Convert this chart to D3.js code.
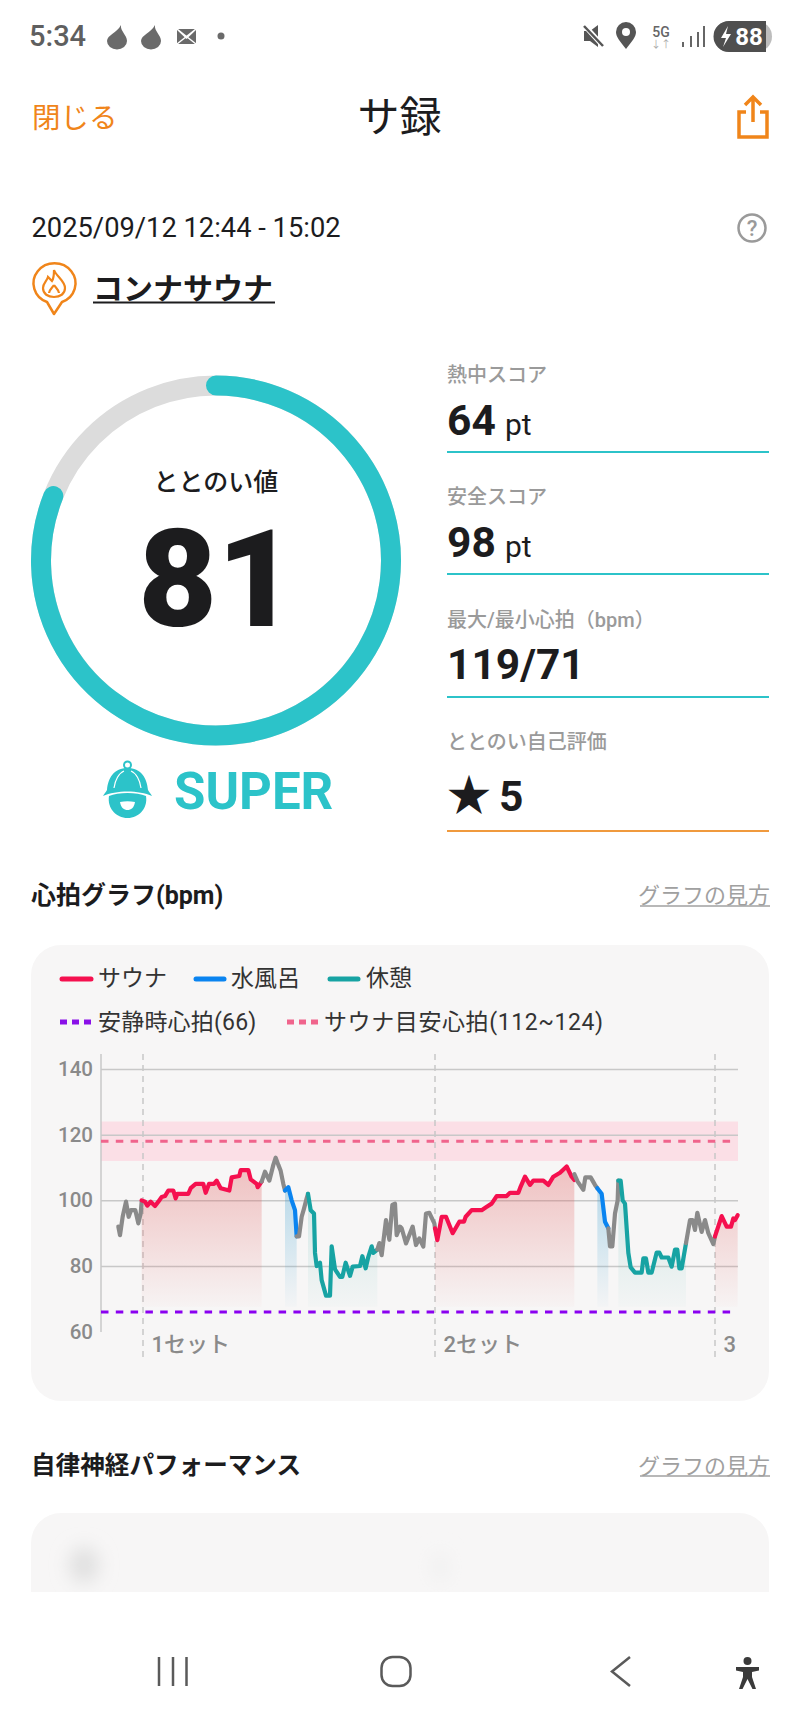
<!DOCTYPE html>
<html>
<head>
<meta charset="utf-8">
<script src="https://cdn.jsdelivr.net/npm/d3@7"></script>
<style>
  html, body { margin: 0; padding: 0; background: #fff; }
  svg { display: block; }
  text { font-family: Roboto, "Noto Sans CJK JP", sans-serif; }
</style>
</head>
<body>
<script>
// heart rate, one [time, bpm] list per stretch of the session
// time is in sample units along the x axis (0 = y axis, 1911 = right edge)
var gray1 = [[52,92],[57,89.4],[65,95],[75,99.6],[83,95],[90,97],[103,97],[112,93],[119,96],[122,99.6]];
var sauna1 = [[122,100],[132,99.6],[139,98.4],[149,99.6],[162,98.3],[172,99.6],[182,101],[192,101.3],[202,103],[217,103],[224,100.6],[229,102],[262,102],[269,103.7],[284,105],[307,105],[314,102.3],[324,105],[339,105],[347,106],[359,103.7],[385,103],[392,107],[415,107.4],[419,109.2],[442,109.2],[449,106.4],[467,105],[470,104],[482,105.7]];
var gray2 = [[482,105.7],[492,108.7],[505,106],[517,110.8],[524,113],[532,110.8],[539,109],[547,105],[552,103]];
var water1 = [[552,103],[562,104],[572,100],[582,97],[587,89]];
var gray3 = [[587,89],[594,89],[602,95],[609,97.5],[617,100.6],[621,102]];
var rest1 = [[621,102],[629,97],[639,96],[642,84],[647,80],[657,81],[662,75.7],[675,71],[687,71],[692,86],[702,79],[717,76.7],[724,76.7],[734,81],[747,77],[755,79.8],[777,80],[784,83],[794,79.3],[802,82.8],[812,86],[817,84],[829,85]];
var gray4 = [[829,85],[835,87],[842,83.3],[855,94],[865,88],[874,98.6],[882,99],[887,89.4],[897,92],[902,91.5],[915,86.9],[935,92],[945,86.4],[955,88.4],[967,85.9],[975,96],[985,96.2],[1000,93],[1002,91.5]];
var sauna2 = [[1002,91.5],[1009,87.9],[1022,95],[1035,95],[1055,90],[1075,93.5],[1089,93.5],[1094,95],[1112,97],[1142,97],[1155,97.9],[1172,99],[1187,101.3],[1217,101.3],[1227,102.3],[1252,102.3],[1259,104.2],[1272,107.2],[1287,104.7],[1297,106],[1327,106],[1342,104.7],[1357,107.2],[1377,108.4],[1397,110.3],[1412,107.2],[1420,106.2]];
var gray5 = [[1420,108],[1430,105.7],[1447,103.2],[1453,107],[1469,107],[1482,104.7],[1489,103.7]];
var water2 = [[1489,103.7],[1502,102],[1512,93.5],[1522,91.5]];
var gray6 = [[1522,91.5],[1527,86],[1534,86],[1542,96],[1550,100],[1552,106]];
var rest2 = [[1552,106],[1559,106],[1565,100],[1572,99],[1582,84],[1589,79.6],[1602,78],[1622,78],[1627,82.3],[1635,82.3],[1642,78],[1652,78],[1667,84.1],[1675,84.1],[1682,82.6],[1702,82.6],[1712,79.8],[1722,85],[1729,85],[1735,79.3],[1742,79.3],[1755,87]];
var gray7 = [[1755,87],[1767,94],[1775,94],[1782,91],[1789,96.2],[1802,90.4],[1812,94],[1822,90],[1837,86.7],[1842,89]];
var sauna3 = [[1842,89],[1862,95.2],[1877,92],[1890,92],[1897,94.5],[1902,94],[1910,95.5]];

var bpmTicks = [60, 80, 100, 120, 140];
var setStarts = [126, 1002, 1842];
var setLabels = ["1セット", "2セット", "3セット"];
var restingBpm = 66;
var markerBpm = 118;
var targetLow = 112;
var targetHigh = 124;
var areaFloor = 67.6;

var scoreValue = 81;
var scoreMax = 100;
var scoreLabels = ["熱中スコア", "安全スコア", "最大/最小心拍（bpm）", "ととのい自己評価"];
var scoreValues = ["64", "98", "119/71", "5"];

var teal = "#2cc3c9";
var orange = "#f0851a";
var saunaColor = "#f5104f";
var waterColor = "#0a84f0";
var restColor = "#17a3a3";
var grayLine = "#8a8a8a";

var svg = d3.select("body").append("svg")
  .attr("width", 800).attr("height", 1716);

var defs = svg.append("defs");

// little helper, everything on this screen is text at a spot
function label(g, tx, ty, str, size, color, weight, anchor) {
  return g.append("text")
    .attr("x", tx).attr("y", ty)
    .attr("font-size", size)
    .attr("fill", color)
    .attr("font-weight", weight || 400)
    .attr("text-anchor", anchor || "start")
    .text(str);
}

// ---- status bar ----
var statusBar = svg.append("g");
label(statusBar, 29, 46, "5:34", 29, "#5f5f5f", 500);
[117, 151].forEach(function(cx) {
  statusBar.append("path")
    .attr("d", "M" + (cx + 4) + ",25 C" + (cx + 3) + ",31 " + (cx + 10) + ",35 " + (cx + 10) + ",41 a10,8.5 0 0 1 -20,0 C" + (cx - 10) + ",35 " + cx + ",33 " + (cx + 4) + ",25 Z")
    .attr("fill", "#6a6a6a");
});
statusBar.append("rect").attr("x", 177).attr("y", 29).attr("width", 19).attr("height", 15).attr("fill", "#6a6a6a");
statusBar.append("path").attr("d", "M177,29 L196,44 M196,29 L177,44 M177,29 L186.5,38 L196,29").attr("stroke", "#fff").attr("stroke-width", 1.5).attr("fill", "none");
statusBar.append("circle").attr("cx", 221).attr("cy", 36).attr("r", 3.5).attr("fill", "#6a6a6a");
// mute
statusBar.append("path").attr("d", "M584,31 L590,31 L598,25 L598,47 L590,41 L584,41 Z").attr("fill", "#555");
statusBar.append("path").attr("d", "M584,25 L604,47").attr("stroke", "#fff").attr("stroke-width", 5);
statusBar.append("path").attr("d", "M584,26 L603,46").attr("stroke", "#555").attr("stroke-width", 2.5);
// location pin
statusBar.append("path").attr("d", "M626,49 C620,41 616,37 616,32 a10,10 0 0 1 20,0 C636,37 632,41 626,49 Z").attr("fill", "#555");
statusBar.append("circle").attr("cx", 626).attr("cy", 32).attr("r", 4).attr("fill", "#fff");
label(statusBar, 661, 37, "5G", 14, "#666", 500, "middle");
label(statusBar, 661, 48, "↓↑", 10, "#aaa", 400, "middle");
[[682, 5], [690, 11], [697, 15], [703, 21]].forEach(function(b) {
  statusBar.append("rect").attr("x", b[0]).attr("y", 47 - b[1]).attr("width", 2).attr("height", b[1]).attr("fill", "#666");
});
statusBar.append("rect").attr("x", 714).attr("y", 21).attr("width", 58).attr("height", 31).attr("rx", 15.5).attr("fill", "#bdbdbd");
statusBar.append("path").attr("d", "M729,21 a15.5,15.5 0 0 0 0,31 L766,52 L766,21 Z").attr("fill", "#4f4f4f");
statusBar.append("path").attr("d", "M728,26 L721,38 L726,38 L723,47 L731,34 L726,34 Z").attr("fill", "#fff");
label(statusBar, 749, 45, "88", 24, "#fff", 700, "middle");

// ---- header ----
var head = svg.append("g");
label(head, 32, 128, "閉じる", 28.5, orange, 400);
label(head, 399.5, 132, "サ録", 42, "#1c1c1e", 400, "middle");
head.append("path")
  .attr("d", "M746,112 L739,112 L739,137 L767,137 L767,112 L760,112 M753,122 L753,99 M745,105 L753,97 L761,105")
  .attr("fill", "none").attr("stroke", orange).attr("stroke-width", 3.5);

label(head, 31.5, 237, "2025/09/12 12:44 - 15:02", 27.3, "#1c1c1e", 400);
head.append("circle").attr("cx", 752).attr("cy", 228).attr("r", 13.5)
  .attr("fill", "none").attr("stroke", "#9a9a9a").attr("stroke-width", 2.5);
label(head, 752, 236, "?", 22, "#9a9a9a", 500, "middle");

// venue pin
head.append("path")
  .attr("d", "M47,302 A21,20 0 1 1 62,302 L54,314 Z")
  .attr("fill", "none").attr("stroke", orange).attr("stroke-width", 2.5).attr("stroke-linejoin", "round");
head.append("path")
  .attr("d", "M54,270 C56,276 65,281 65,288 C65,294 60,297 54,297 C48,297 43,294 43,288 C43,283 47,281 48,277 C50,279 51,280 52,281 C54,278 54,274 54,270 Z M54,285 C52,288 49,290 49,293 M54,285 C56,288 59,290 59,293")
  .attr("fill", "none").attr("stroke", orange).attr("stroke-width", 2.2);
label(head, 93, 299, "コンナサウナ", 30, "#1c1c1e", 700);
head.append("line").attr("x1", 93).attr("x2", 275).attr("y1", 302.5).attr("y2", 302.5)
  .attr("stroke", "#1c1c1e").attr("stroke-width", 2);

// ---- score ring ----
var ring = svg.append("g").attr("transform", "translate(216,560.5)");
var ringScale = d3.scaleLinear().domain([0, scoreMax]).range([0, 2 * Math.PI]);
var ringRadius = 175;

ring.append("circle").attr("r", ringRadius)
  .attr("fill", "none").attr("stroke", "#dcdcdc").attr("stroke-width", 20);
// open arc so the round caps actually show
var ringPath = d3.path();
ringPath.arc(0, 0, ringRadius, -Math.PI / 2, -Math.PI / 2 + ringScale(scoreValue));
ring.append("path").attr("d", ringPath.toString())
  .attr("fill", "none").attr("stroke", teal).attr("stroke-width", 20).attr("stroke-linecap", "round");

label(svg, 216, 491, "ととのい値", 25, "#1c1c1e", 500, "middle");
label(svg, 217, 626, String(scoreValue), 136, "#1c1c1e", 900, "middle");

// sauna hat mascot
var hat = svg.append("g").attr("fill", teal);
hat.append("circle").attr("cx", 127.5).attr("cy", 765).attr("r", 3.5).attr("fill", "none").attr("stroke", teal).attr("stroke-width", 2);
hat.append("path").attr("d", "M127.5,768 C114,768 108,778 107,790 C106,792 104,794 103,796 C116,790 139,790 152,796 C151,794 149,792 148,790 C147,778 141,768 127.5,768 Z");
hat.append("path").attr("d", "M109,796 C118,792 137,792 146,796 C148,808 139,818 127.5,818 C116,818 107,808 109,796 Z");
hat.append("path").attr("d", "M120,802 C125,801 130,801 135,802 C134,808 131,810 127.5,810 C124,810 121,808 120,802 Z").attr("fill", "#fff");
hat.append("path").attr("d", "M114,788 C115,780 119,773 124,771 M141,788 C140,780 136,773 131,771").attr("fill", "none").attr("stroke", "#fff").attr("stroke-width", 1.2);
label(svg, 174, 809, "SUPER", 51, teal, 700);

// ---- score list on the right ----
var labelY = [382, 504, 627, 749];
var valueY = [435, 557, 679, 811];
var ruleY = [452, 574, 697, 831];
var listLeft = 447;
var list = svg.append("g");
scoreLabels.forEach(function(d, i) {
  label(list, listLeft, labelY[i], d, 20, "#9a9a9a", 500);
  list.append("line")
    .attr("x1", listLeft).attr("x2", 769).attr("y1", ruleY[i]).attr("y2", ruleY[i])
    .attr("stroke", i == 3 ? "#f09a3e" : teal).attr("stroke-width", 2);
  label(list, i == 3 ? 499 : listLeft, valueY[i], scoreValues[i], 42.5, "#1c1c1e", 700);
  if (i < 2) label(list, 505, valueY[i], "pt", 30, "#1c1c1e", 400);
});
label(list, listLeft, 811, "★", 44, "#1c1c1e", 400);

// ---- heart rate card ----
label(svg, 31, 904, "心拍グラフ(bpm)", 25, "#1c1c1e", 700);
label(svg, 770, 903, "グラフの見方", 22, "#a0a0a0", 400, "end");
svg.append("line").attr("x1", 640).attr("x2", 770).attr("y1", 906).attr("y2", 906).attr("stroke", "#a0a0a0").attr("stroke-width", 1.5);

svg.append("rect").attr("x", 31).attr("y", 945).attr("width", 738).attr("height", 456).attr("rx", 30).attr("fill", "#f7f6f6");

// legend
var legendFont = 23;
var legendLines = [[60, 93, saunaColor, "サウナ", 98], [194, 226, waterColor, "水風呂", 231], [328, 360, restColor, "休憩", 366]];
legendLines.forEach(function(d) {
  svg.append("line").attr("x1", d[0] + 2).attr("x2", d[1] - 2).attr("y1", 979).attr("y2", 979)
    .attr("stroke", d[2]).attr("stroke-width", 5).attr("stroke-linecap", "round");
  label(svg, d[4], 986, d[3], legendFont, "#333");
});
var legendDots = [[60, "#8a10e8", "安静時心拍(66)", 98, 0.2], [287, "#f0648c", "サウナ目安心拍(112~124)", 324, 0.6]];
legendDots.forEach(function(d) {
  svg.append("line").attr("x1", d[0]).attr("x2", d[0] + 33).attr("y1", 1022).attr("y2", 1022)
    .attr("stroke", d[1]).attr("stroke-width", 5).attr("stroke-dasharray", "7 5");
  label(svg, d[3], 1030, d[2], legendFont, "#333").attr("letter-spacing", d[4]);
});

// chart scales
var plotLeft = 101, plotRight = 738;
var x = d3.scaleLinear().domain([0, 1911]).range([plotLeft, plotRight]);
var y = d3.scaleLinear().domain([60, 140]).range([1331.7, 1069]);

var chart = svg.append("g");

defs.append("clipPath").attr("id", "plotClip")
  .append("rect").attr("x", plotLeft).attr("y", 1040).attr("width", 635).attr("height", 340);

// target zone goes under the grid so the 120 line shows through
chart.append("rect")
  .attr("x", plotLeft).attr("width", plotRight - plotLeft)
  .attr("y", y(targetHigh)).attr("height", y(targetLow) - y(targetHigh))
  .attr("fill", "#fbdfe6");

var yAxis = d3.axisLeft(y).tickValues(bpmTicks).tickSize(-(plotRight - plotLeft)).tickPadding(8);
var yg = chart.append("g").attr("transform", "translate(" + plotLeft + ",0)").call(yAxis);
yg.select(".domain").remove();
yg.selectAll(".tick line").attr("stroke", "#c8c8c8").attr("stroke-width", 1.5);
yg.selectAll(".tick").filter(function(d) { return d == 60; }).select("line").remove();
yg.selectAll(".tick text")
  .attr("font-size", 20.5).attr("font-weight", 500).attr("fill", "#8a8a8a")
  .style("font-family", "Roboto");

chart.append("line").attr("x1", plotLeft).attr("x2", plotLeft).attr("y1", 1054).attr("y2", 1332)
  .attr("stroke", "#c8c8c8").attr("stroke-width", 1.5);

// set markers
setStarts.forEach(function(t, i) {
  chart.append("line").attr("x1", x(t)).attr("x2", x(t)).attr("y1", 1054).attr("y2", 1358)
    .attr("stroke", "#c8c8c8").attr("stroke-width", 1.5).attr("stroke-dasharray", "6 5");
  label(chart, x(t) + 8.5, 1352, setLabels[i], 22, "#8a8a8a", 500)
    .attr("clip-path", "url(#plotClip)");
});

// gradients under the coloured stretches
function makeFade(id, color, opTop) {
  var g = defs.append("linearGradient").attr("id", id)
    .attr("gradientUnits", "userSpaceOnUse")
    .attr("x1", 0).attr("x2", 0).attr("y1", y(110)).attr("y2", y(areaFloor));
  g.append("stop").attr("offset", 0).attr("stop-color", color).attr("stop-opacity", opTop);
  g.append("stop").attr("offset", 1).attr("stop-color", color).attr("stop-opacity", 0.02);
}
makeFade("fadeSauna", "#e05a5a", 0.34);
makeFade("fadeWater", "#3a9fd0", 0.38);
makeFade("fadeRest", "#2fa8a0", 0.22);

var area = d3.area().x(function(d) { return x(d[0]); }).y0(y(areaFloor)).y1(function(d) { return y(d[1]); });
var line = d3.line().x(function(d) { return x(d[0]); }).y(function(d) { return y(d[1]); });

var areas = [[sauna1, "fadeSauna"], [water1, "fadeWater"], [rest1, "fadeRest"], [sauna2, "fadeSauna"], [water2, "fadeWater"], [rest2, "fadeRest"], [sauna3, "fadeSauna"]];
areas.forEach(function(d) {
  chart.append("path").attr("d", area(d[0])).attr("fill", "url(#" + d[1] + ")");
});

// reference lines
chart.append("line").attr("x1", plotLeft).attr("x2", 731).attr("y1", y(markerBpm)).attr("y2", y(markerBpm))
  .attr("stroke", "#f0648c").attr("stroke-width", 3.2).attr("stroke-dasharray", "7.5 7.3");
chart.append("line").attr("x1", plotLeft).attr("x2", 731).attr("y1", y(restingBpm)).attr("y2", y(restingBpm))
  .attr("stroke", "#8a00f0").attr("stroke-width", 3.2).attr("stroke-dasharray", "7.5 7.3");

// heart rate line
var stretches = [[gray1, grayLine], [sauna1, saunaColor], [gray2, grayLine], [water1, waterColor], [gray3, grayLine], [rest1, restColor], [gray4, grayLine], [sauna2, saunaColor], [gray5, grayLine], [water2, waterColor], [gray6, grayLine], [rest2, restColor], [gray7, grayLine], [sauna3, saunaColor]];
stretches.forEach(function(d) {
  chart.append("path").attr("d", line(d[0]))
    .attr("fill", "none").attr("stroke", d[1]).attr("stroke-width", 4.2)
    .attr("stroke-linejoin", "round").attr("stroke-linecap", "round");
});

// ---- second section, cut off by the nav bar ----
label(svg, 31, 1474, "自律神経パフォーマンス", 24.6, "#1c1c1e", 700);
label(svg, 770, 1474, "グラフの見方", 22, "#a0a0a0", 400, "end");
svg.append("line").attr("x1", 640).attr("x2", 770).attr("y1", 1476).attr("y2", 1476).attr("stroke", "#a0a0a0").attr("stroke-width", 1.5);

var softBlur = defs.append("filter").attr("id", "soft").attr("x", "-100%").attr("y", "-100%").attr("width", "300%").attr("height", "300%");
softBlur.append("feGaussianBlur").attr("stdDeviation", 9);
defs.append("clipPath").attr("id", "cardClip").append("rect").attr("x", 31).attr("y", 1513).attr("width", 738).attr("height", 79);
var lower = svg.append("g").attr("clip-path", "url(#cardClip)");
lower.append("rect").attr("x", 31).attr("y", 1513).attr("width", 738).attr("height", 120).attr("rx", 30).attr("fill", "#f7f6f6");
lower.append("ellipse").attr("cx", 84).attr("cy", 1565).attr("rx", 15).attr("ry", 18).attr("fill", "#e0e0e0").attr("filter", "url(#soft)");
lower.append("ellipse").attr("cx", 440).attr("cy", 1567).attr("rx", 8).attr("ry", 16).attr("fill", "#f0f0f0").attr("filter", "url(#soft)");

// ---- nav bar ----
var nav = svg.append("g").attr("fill", "none").attr("stroke", "#5a5a5a").attr("stroke-width", 2.5);
[159, 173, 186.5].forEach(function(nx) {
  nav.append("line").attr("x1", nx).attr("x2", nx).attr("y1", 1657).attr("y2", 1686);
});
nav.append("rect").attr("x", 381.5).attr("y", 1657).attr("width", 29).attr("height", 29).attr("rx", 11);
nav.append("path").attr("d", "M630,1657 L612,1671.5 L630,1686");
var person = svg.append("g").attr("fill", "#3a3a3a");
person.append("circle").attr("cx", 747.5).attr("cy", 1661).attr("r", 4);
person.append("path").attr("d", "M736,1667 L759,1667 L759,1670.5 L752,1672 L752,1677 L756,1689 L752.5,1689 L747.5,1679 L742.5,1689 L739,1689 L743,1677 L743,1672 L736,1670.5 Z");
</script>
</body>
</html>
